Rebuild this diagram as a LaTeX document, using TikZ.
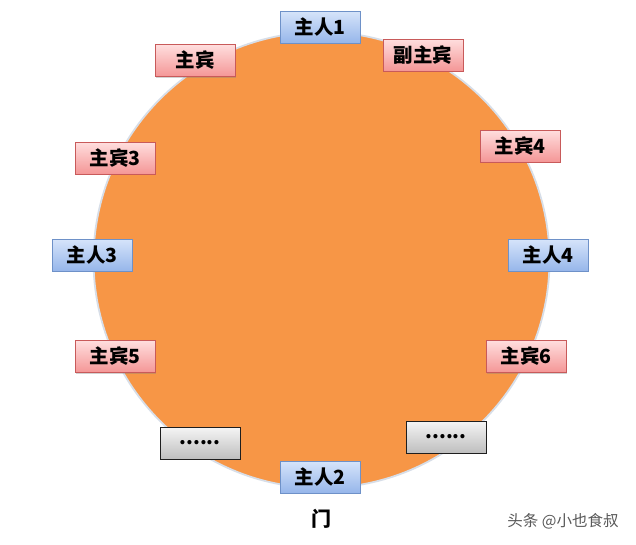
\documentclass[tikz,border=0pt]{standalone}
\usepackage{fontspec}
\newfontfamily\cjk{Noto Sans CJK SC}
\usetikzlibrary{shadows}
\definecolor{orangefill}{RGB}{247,150,70}
\definecolor{ringcol}{RGB}{215,222,232}
\definecolor{bluetop}{RGB}{214,228,250}
\definecolor{bluebot}{RGB}{150,182,234}
\definecolor{blueline}{RGB}{110,145,200}
\definecolor{pinktop}{RGB}{255,222,222}
\definecolor{pinkbot}{RGB}{244,150,150}
\definecolor{pinkline}{RGB}{200,90,90}
\definecolor{graytop}{RGB}{245,245,245}
\definecolor{graybot}{RGB}{190,190,190}
\definecolor{grayline}{RGB}{30,30,30}
\tikzset{
  seat/.style={minimum width=80pt, minimum height=32pt, inner sep=0pt,
    font=\cjk\bfseries\fontsize{19.5}{22}\selectfont, text=black,
    drop shadow={shadow xshift=1.2pt, shadow yshift=-1.2pt, opacity=0.35}},
  host/.style={seat, draw=blueline, line width=0.8pt, top color=bluetop, bottom color=bluebot},
  guest/.style={seat, draw=pinkline, line width=0.8pt, top color=pinktop, bottom color=pinkbot},
  blank/.style={seat, draw=grayline, line width=0.8pt, top color=graytop, bottom color=graybot},
}
\begin{document}
\begin{tikzpicture}[x=1pt,y=-1pt]
\useasboundingbox (0,0) rectangle (636,544);
\fill[white] (0,0) rectangle (636,544);
\node[circle, minimum size=456pt, inner sep=0pt, fill=orangefill, draw=ringcol, line width=1.8pt] (table) at (321.5,260) {};
\node[host]  (h1) at (320,27) {主人1};
\node[guest] (g0) at (195,60.5) {主宾};
\node[guest] (g1) at (423,55) {副主宾};
\node[guest] (g3) at (115,158) {主宾3};
\node[guest] (g4) at (520,146) {主宾4};
\node[host]  (h3) at (92,255) {主人3};
\node[host]  (h4) at (548,255) {主人4};
\node[guest] (g5) at (115,356.5) {主宾5};
\node[guest] (g6) at (526,356.5) {主宾6};
\node[blank] (b1) at (200,443) {......};
\node[blank] (b2) at (446,437) {......};
\node[host]  (h2) at (320,477) {主人2};
\node[font=\cjk\bfseries\fontsize{20}{22}\selectfont] (door) at (321,519) {门};
\node[font=\cjk\fontsize{15.5}{18}\selectfont, text=black!65] (wm) at (563,521) {头条 @小也食叔};
\end{tikzpicture}
\end{document}
